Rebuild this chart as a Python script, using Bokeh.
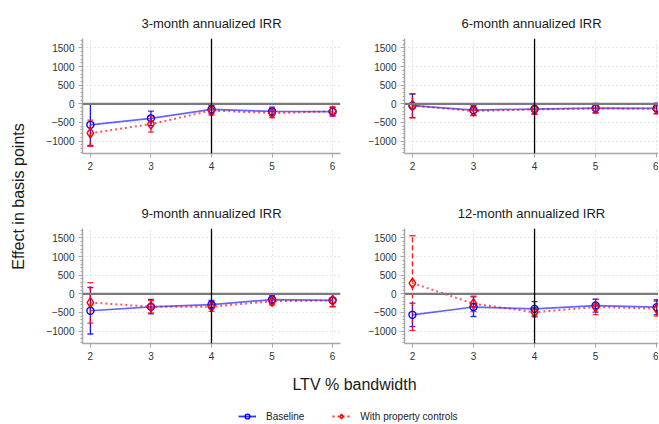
from math import pi
from bokeh.plotting import figure
from bokeh.models import (Range1d, FixedTicker, Span, Whisker, TeeHead, ColumnDataSource,
                          Label, Legend, LegendItem, Title)
from bokeh.layouts import column, row
from bokeh.embed import file_html
from bokeh.resources import INLINE

# ---------------- data ----------------
ltv = [2, 3, 4, 5, 6]
titles = ["3-month annualized IRR", "6-month annualized IRR",
          "9-month annualized IRR", "12-month annualized IRR"]
y_ticks = [-1000, -500, 0, 500, 1000, 1500]
x_ticks = [2, 3, 4, 5, 6]

# Baseline / with-controls estimates and CI bounds
base_3m = [-565, -390, -150, -205, -210]
base_3m_lo = [-1120, -590, -260, -320, -330]
base_3m_hi = [-10, -195, -40, -90, -95]
ctrl_3m = [-790, -545, -180, -250, -200]
ctrl_3m_lo = [-1140, -760, -300, -370, -320]
ctrl_3m_hi = [-440, -330, -60, -130, -80]

base_6m = [-50, -170, -140, -115, -120]
base_6m_lo = [-370, -300, -270, -240, -260]
base_6m_hi = [260, -40, -10, 10, 20]
ctrl_6m = [-45, -195, -150, -125, -135]
ctrl_6m_lo = [-380, -320, -280, -250, -270]
ctrl_6m_hi = [270, -70, -20, 0, 0]

base_9m = [-455, -350, -290, -155, -175]
base_9m_lo = [-1080, -540, -400, -260, -350]
base_9m_hi = [170, -150, -180, -50, 0]
ctrl_9m = [-235, -345, -345, -200, -175]
ctrl_9m_lo = [-790, -510, -470, -300, -340]
ctrl_9m_hi = [300, -180, -210, -100, -10]

base_12m = [-565, -355, -405, -315, -360]
base_12m_lo = [-880, -610, -600, -490, -560]
base_12m_hi = [-250, -80, -210, -140, -160]
ctrl_12m = [290, -265, -495, -355, -400]
ctrl_12m_lo = [-980, -480, -620, -560, -600]
ctrl_12m_hi = [1560, -60, -370, -150, -200]

panels = [
    (base_3m, base_3m_lo, base_3m_hi, ctrl_3m, ctrl_3m_lo, ctrl_3m_hi),
    (base_6m, base_6m_lo, base_6m_hi, ctrl_6m, ctrl_6m_lo, ctrl_6m_hi),
    (base_9m, base_9m_lo, base_9m_hi, ctrl_9m, ctrl_9m_lo, ctrl_9m_hi),
    (base_12m, base_12m_lo, base_12m_hi, ctrl_12m, ctrl_12m_lo, ctrl_12m_hi),
]

# ---------------- style ----------------
FONT = "Liberation Sans"
BLUE = "#0000FF"
RED = "#FF0000"
AXIS_GREY = "#a6a6a6"
LABEL_COL = "#333333"
TEXT_COL = "#1a1a1a"


def make_panel(title, data, left_b, frame_w, right_b, top_b, frame_h, bottom_b, xmax):
    b, blo, bhi, c, clo, chi = data
    ttl = Title(text=title, align="center", text_font=FONT, text_font_size="13px",
                text_font_style="normal", text_color=TEXT_COL, standoff=15)
    p = figure(width=left_b + frame_w + right_b, height=top_b + frame_h + bottom_b,
               x_range=Range1d(1.87, xmax), y_range=Range1d(-1335, 1755),
               toolbar_location=None, output_backend="svg",
               min_border_left=left_b, min_border_right=right_b,
               min_border_top=top_b, min_border_bottom=bottom_b,
               outline_line_color=None, title=ttl)

    # grids
    p.xgrid.ticker = FixedTicker(ticks=x_ticks)
    p.ygrid.ticker = FixedTicker(ticks=y_ticks)
    for g in (p.xgrid, p.ygrid):
        g.grid_line_color = "#cfcfcf"
        g.grid_line_dash = "1 3"
        g.grid_line_width = 1

    # axes
    p.xaxis.ticker = FixedTicker(ticks=x_ticks)
    p.yaxis.ticker = FixedTicker(ticks=y_ticks, minor_ticks=list(range(-1300, 1800, 100)))
    p.yaxis.major_label_overrides = {-1000: "\u22121000", -500: "\u2212500"}
    for ax in (p.xaxis, p.yaxis):
        ax.axis_line_color = AXIS_GREY
        ax.axis_line_width = 1.5
        ax.major_tick_line_color = AXIS_GREY
        ax.major_tick_out = 4
        ax.major_tick_in = 0
        ax.major_label_text_font = FONT
        ax.major_label_text_font_size = "10px"
        ax.major_label_text_color = LABEL_COL
        ax.major_label_standoff = 4
    p.xaxis.minor_tick_line_color = None
    p.yaxis.minor_tick_line_color = AXIS_GREY
    p.yaxis.minor_tick_out = 2
    p.yaxis.minor_tick_in = 0

    # reference lines
    p.add_layout(Span(location=0, dimension="width", line_color="#7a7a7a", line_width=2.2))
    p.add_layout(Span(location=4, dimension="height", line_color="black", line_width=1.3))

    src_b = ColumnDataSource(dict(x=ltv, y=b, lo=blo, hi=bhi))
    src_c = ColumnDataSource(dict(x=ltv, y=c, lo=clo, hi=chi))

    # lines
    p.line("x", "y", source=src_b, line_color=BLUE, line_alpha=0.6, line_width=1.7)
    p.line("x", "y", source=src_c, line_color=RED, line_alpha=0.65, line_width=2,
           line_dash="2 3")

    # error bars
    wb = Whisker(source=src_b, base="x", lower="lo", upper="hi", dimension="height",
                 line_color=BLUE, line_width=1.3, line_alpha=0.9,
                 upper_head=TeeHead(size=6, line_color=BLUE, line_width=1.3, line_alpha=0.8),
                 lower_head=TeeHead(size=6, line_color=BLUE, line_width=1.3, line_alpha=0.8))
    wc = Whisker(source=src_c, base="x", lower="lo", upper="hi", dimension="height",
                 line_color=RED, line_width=1.3, line_alpha=0.9, line_dash="5 3",
                 upper_head=TeeHead(size=6, line_color=RED, line_width=1.3, line_alpha=0.8),
                 lower_head=TeeHead(size=6, line_color=RED, line_width=1.3, line_alpha=0.8))
    p.add_layout(wb)
    p.add_layout(wc)

    # markers
    p.scatter("x", "y", source=src_b, marker="circle", size=7, fill_color=None,
              line_color=BLUE, line_width=1.4)
    p.scatter("x", "y", source=src_c, marker="diamond", size=10, fill_color=None,
              line_color=RED, line_width=1.4)
    return p


# layout geometry (pixels)
YLAB_W = 40
LEFT_B, LEFT_FW, LEFT_RB = 42, 258, 20
RIGHT_B, RIGHT_FW, RIGHT_RB = 44, 254, 0
TOP_TB, TOP_FH, TOP_BB = 38, 115, 32
BOT_TB, BOT_FH, BOT_BB = 43, 115, 22

p1 = make_panel(titles[0], panels[0], LEFT_B, LEFT_FW, LEFT_RB, TOP_TB, TOP_FH, TOP_BB, 6.13)
p2 = make_panel(titles[1], panels[1], RIGHT_B, RIGHT_FW, RIGHT_RB, TOP_TB, TOP_FH, TOP_BB, 6.03)
p3 = make_panel(titles[2], panels[2], LEFT_B, LEFT_FW, LEFT_RB, BOT_TB, BOT_FH, BOT_BB, 6.13)
p4 = make_panel(titles[3], panels[3], RIGHT_B, RIGHT_FW, RIGHT_RB, BOT_TB, BOT_FH, BOT_BB, 6.03)

grid_h = (TOP_TB + TOP_FH + TOP_BB) + (BOT_TB + BOT_FH + BOT_BB)
total_w = YLAB_W + (LEFT_B + LEFT_FW + LEFT_RB) + (RIGHT_B + RIGHT_FW + RIGHT_RB)


def blank(w, h):
    f = figure(width=w, height=h, x_range=Range1d(0, w), y_range=Range1d(0, h),
               toolbar_location=None, output_backend="svg", min_border=0,
               x_axis_location=None, y_axis_location=None, outline_line_color=None)
    f.xgrid.visible = False
    f.ygrid.visible = False
    return f


# y-axis label
ylab = blank(YLAB_W, grid_h)
ylab.add_layout(Label(x=18, y=grid_h - 196, text="Effect in basis points", angle=pi / 2,
                      text_align="center", text_baseline="middle", text_font=FONT,
                      text_font_size="16px", text_color=TEXT_COL))

# x-axis label
XLAB_H = 35
xlab = blank(total_w, XLAB_H)
xlab.add_layout(Label(x=354, y=XLAB_H - 19, text="LTV % bandwidth", text_align="center",
                      text_baseline="middle", text_font=FONT, text_font_size="16px",
                      text_color=TEXT_COL))

# legend
LEG_H = 22
leg = blank(total_w, LEG_H)
off = [-100, -90]
l1 = leg.line(off, off, line_color=BLUE, line_width=1.8, line_alpha=0.8)
s1 = leg.scatter(off, off, marker="circle", size=6, fill_color=None, line_color=BLUE,
                 line_width=1.4)
l2 = leg.line(off, off, line_color=RED, line_width=2, line_dash="2 3", line_alpha=0.8)
s2 = leg.scatter(off, off, marker="diamond", size=8, fill_color=None, line_color=RED,
                 line_width=1.4)
legend = Legend(items=[LegendItem(label="Baseline", renderers=[l1, s1]),
                       LegendItem(label="With property controls", renderers=[l2, s2])],
                orientation="horizontal", location=(238, 0), padding=0, margin=0,
                spacing=28, glyph_width=18, glyph_height=12, label_standoff=10,
                label_text_font=FONT, label_text_font_size="10px",
                label_text_color=TEXT_COL, border_line_color=None,
                background_fill_alpha=0)
leg.add_layout(legend)

layout = column(row(ylab, column(row(p1, p2), row(p3, p4))), xlab, leg)

open("out.html", "w").write(file_html(layout, INLINE))
